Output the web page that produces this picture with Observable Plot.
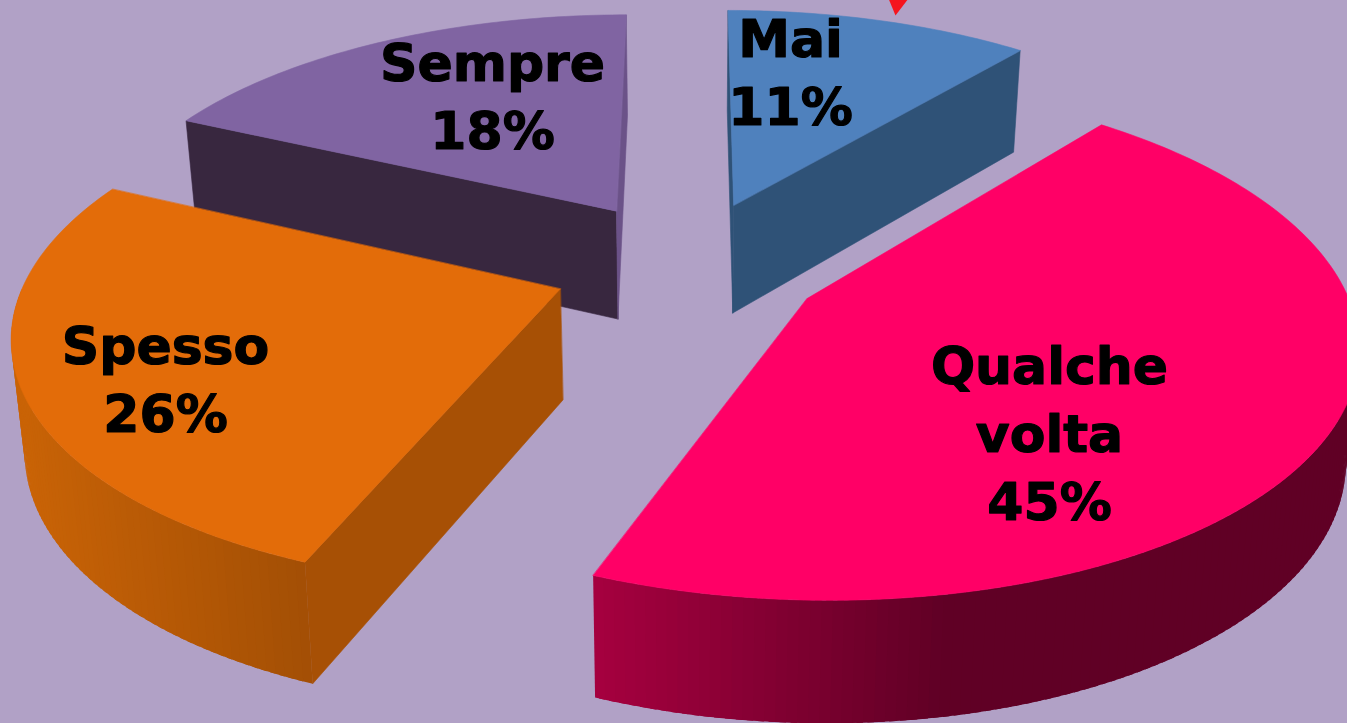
<!DOCTYPE html>
<html>
<head>
<meta charset="utf-8">
<script src="https://cdn.jsdelivr.net/npm/d3@7"></script>
<script src="https://cdn.jsdelivr.net/npm/@observablehq/plot@0.6"></script>
<style>
html,body{margin:0;padding:0;background:#b1a1c6;overflow:hidden}
svg{display:block}
</style>
</head>
<body>
<script>
// Data
const categories = ["Mai", "Qualche\nvolta", "Spesso", "Sempre"];
const values = [11, 45, 26, 18];

// Styles, by category
const topColors = ["#4f81bd", "#ff0066", "#e36c09", "#8064a2"];
const startFaceColors = ["#2f5277", "#600025", "#a75005", "#38273f"];
const endFaceColors = ["#2f5277", "#600025", "#a75005", "#6b5288"];
const wallDark = ["#2f5277", "#600025", "#a34f05", "#38273f"];
const wallBright = ["#2f5277", "#a80040", "#c96306", "#38273f"];
const wallDarkX = [0, 950, 310, 0];
const wallBrightX = [1, 590, 20, 1];
const drawOrder = [3, 0, 2, 1];

// Annotation: label anchors and the clipped red arrow tip at the top edge
const labelX = [790, 1049, 165, 492];
const labelY = [69, 430, 376, 93];
const arrowX = [888, 908, 895];
const arrowY = [-2, -2, 15];

// Camera model of the tilted, exploded pie
const W = 1347, H = 723;
const cx = 690, cy = 264, bx = 530, ay = 242.5, persp = 0.157;
const explodeX = [0.25, 0.25, 0.26, 0.27];
const explodeY = [0.27, 0.27, 0.27, 0.27];
const depthBase = 50, depthScale = 60, converge = 0.98;

const rad = (d) => d * Math.PI / 180;
function project(u, v) {
  const s = 1 / (1 + persp * v);
  return {x: cx + bx * u * s, y: cy - ay * v * s, s};
}
const lower = (p) => ({
  x: cx + (p.x - cx) * converge,
  y: p.y + depthBase + depthScale * p.s
});
const area = (ps) => d3.sum(ps, (p, i) => {
  const q = ps[(i + 1) % ps.length];
  return p.x * q.y - q.x * p.y;
});

// Slices
const total = d3.sum(values);
let acc = 0;
const slices = values.map((val, i) => {
  const a0 = acc / total * 360;
  acc += val;
  const a1 = acc / total * 360;
  const m = rad((a0 + a1) / 2);
  const ox = explodeX[i] * Math.sin(m), oy = explodeY[i] * Math.cos(m);
  const at = (deg) => project(ox + Math.sin(rad(deg)), oy + Math.cos(rad(deg)));
  return {i, a0, a1, at, apex: project(ox, oy)};
});

const poly = (points, fill) => Plot.line(points, {
  x: "x", y: "y", fill, stroke: fill, strokeWidth: 0.6, curve: "linear-closed"
});

const marks = [];
for (const k of drawOrder) {
  const {i, a0, a1, at, apex} = slices[k];
  // outer wall, as narrow overlapping strips facing the viewer
  const lo = Math.max(a0, 90), hi = Math.min(a1, 270);
  if (hi > lo) {
    const color = d3.interpolateRgb(wallDark[i], wallBright[i]);
    const strips = [];
    const n = Math.ceil(hi - lo);
    for (let j = 0; j < n; ++j) {
      const d0 = lo + (hi - lo) * j / n;
      const d1 = lo + (hi - lo) * Math.min(n, j + 1.6) / n;
      const P0 = at(d0), P1 = at(d1);
      const t = (P0.x - wallDarkX[i]) / (wallBrightX[i] - wallDarkX[i]);
      const c = color(Math.max(0, Math.min(1, t)));
      for (const p of [P0, P1, lower(P1), lower(P0)]) strips.push({x: p.x, y: p.y, z: j, c});
    }
    marks.push(Plot.line(strips, {
      x: "x", y: "y", z: "z", fill: "c", stroke: "none", curve: "linear-closed"
    }));
  }
  // radial faces, when they turn towards the viewer
  const face = (deg) => {
    const e = at(deg);
    return [apex, e, lower(e), lower(apex)];
  };
  const fs = face(a0), fe = face(a1);
  if (area(fs) < 0) marks.push(poly(fs, startFaceColors[i]));
  if (area(fe) > 0) marks.push(poly(fe, endFaceColors[i]));
  // top
  const top = [apex, ...d3.range(a0, a1, 1).map(at), at(a1)];
  marks.push(poly(top, topColors[i]));
}

// Arrow tip
marks.push(Plot.line(arrowX.map((x, j) => ({x, y: arrowY[j]})), {
  x: "x", y: "y", fill: "#f5141e", curve: "linear-closed"
}));

// Labels
const labels = categories.map((name, i) => ({
  text: `${name}\n${values[i]}%`, x: labelX[i], y: labelY[i]
}));
marks.push(Plot.text(labels, {
  x: "x", y: "y", text: "text", fill: "#000", stroke: "#000", strokeWidth: 1.2,
  fontFamily: "DejaVu Sans", fontWeight: "bold", fontSize: 52,
  lineHeight: 1.31, textAnchor: "middle"
}));

const chart = Plot.plot({
  width: W, height: H,
  margin: 0,
  x: {domain: [0, W], range: [0, W], axis: null},
  y: {domain: [0, H], range: [0, H], axis: null},
  color: {type: "identity"},
  style: {background: "#b1a1c6", overflow: "hidden"},
  marks
});
document.body.appendChild(chart);
</script>
</body>
</html>
